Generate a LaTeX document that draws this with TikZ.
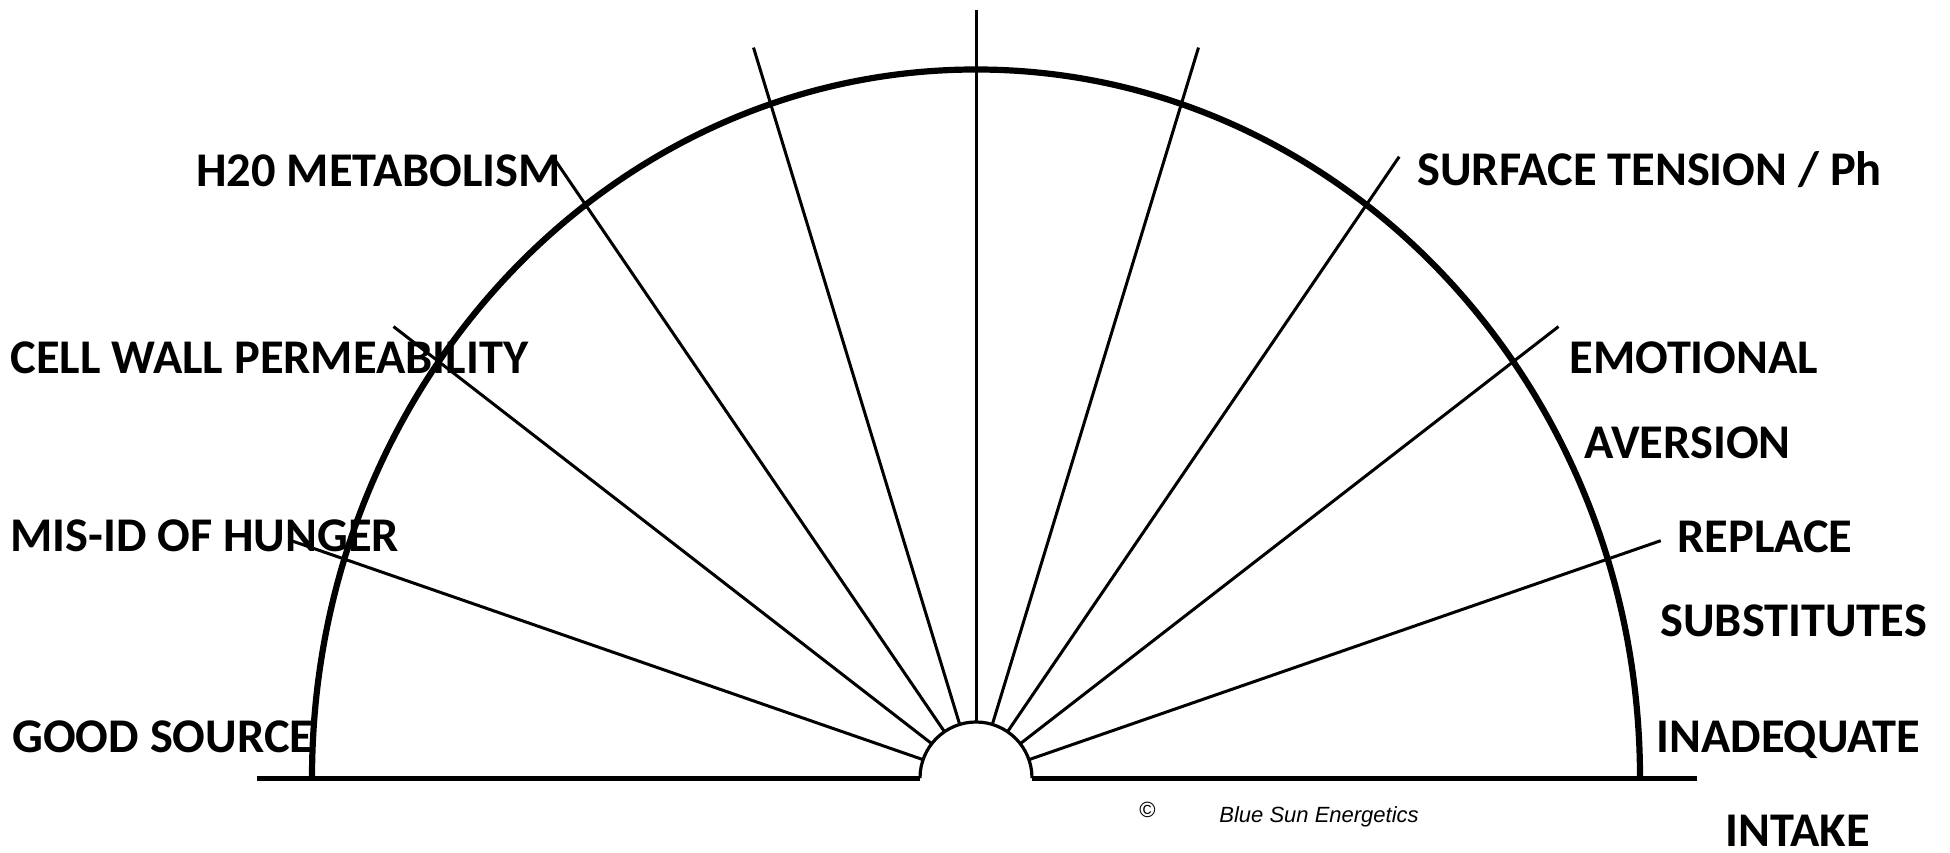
\documentclass[tikz,border=0pt]{standalone}
\usepackage{fontspec}
\newfontfamily\labfont{Carlito}
\newfontfamily\credfont{Liberation Sans}
\usetikzlibrary{calc}
\begin{document}
\begin{tikzpicture}[x=0.5pt,y=0.5pt,
  lab/.style={font=\labfont\bfseries\fontsize{24.2}{28}\selectfont, inner sep=0pt, anchor=base west},
  cred/.style={font=\credfont\fontsize{11}{13}\selectfont, inner sep=0pt, anchor=base west},
  ray/.style={line width=1.5pt, shorten <=28pt},
  bigarc/.style={line width=3.1pt},
  baseln/.style={line width=2.5pt},
  smallarc/.style={line width=1.6pt}]
\useasboundingbox (0,0) rectangle (1950,852);
\coordinate (c) at (976,74);
\coordinate (bl) at (257,74);
\coordinate (br) at (1697,74);
\coordinate (sl) at (920,74);
\coordinate (sr) at (1032,74);
\coordinate (fl) at (312,74);
% rays
\foreach \i/\a in {1/162,2/144,3/126,4/108,5/90,6/72,7/54,8/36,9/18}{
  \coordinate (o\i) at ($(c)+(\a:360pt and 384pt)$);
  \draw[ray] (c) -- (o\i);
}
% big arc
\draw[bigarc] (fl) arc[start angle=180, end angle=0, x radius=332pt, y radius=354.25pt];
% base line and small arc
\draw[baseln] (bl) -- (sl);
\draw[baseln] (sr) -- (br);
\draw[smallarc] (sl) arc[start angle=180, end angle=0, radius=28pt];
% labels
\node[lab] (h2o) at (196,665) {H20 METABOLISM};
\node[lab] (cell) at (10,478) {CELL WALL PERMEABILITY};
\node[lab] (misid) at (10,300) {MIS-ID OF HUNGER};
\node[lab] (good) at (12,99) {GOOD SOURCE};
\node[lab] (surf) at (1417,666) {SURFACE TENSION / Ph};
\node[lab] (emo) at (1569,478) {EMOTIONAL};
\node[lab] (aver) at (1584,393) {AVERSION};
\node[lab] (repl) at (1677,299) {REPLACE};
\node[lab] (subs) at (1660,215) {SUBSTITUTES};
\node[lab] (inad) at (1656,99) {INADEQUATE};
\node[lab] (intake) at (1725,6) {INTAKE};
\node[cred] (copy) at (1139,34) {©};
\node[cred] (bse) at (1219,30) {\itshape Blue Sun Energetics};
\end{tikzpicture}
\end{document}
